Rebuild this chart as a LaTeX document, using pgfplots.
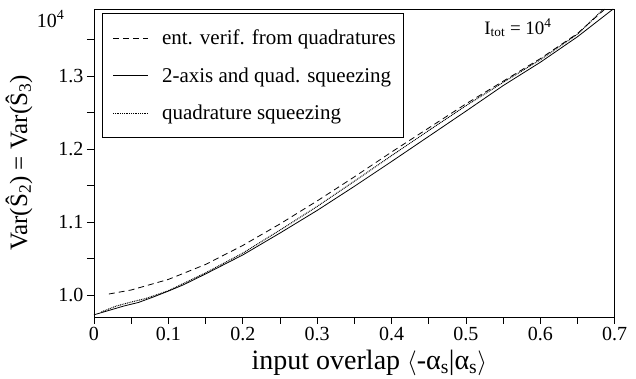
\documentclass[border=0pt]{standalone}
\usepackage{fontspec}
\setmainfont{Liberation Serif}
\usepackage{pgfplots}
\pgfplotsset{compat=1.18}
\begin{document}
\begin{tikzpicture}
\begin{axis}[
  name=ax,
  scale only axis,
  width=520.7pt, height=308pt,
  xmin=0, xmax=0.7, ymin=0.97, ymax=1.392,
  xtick={0,0.1,0.2,0.3,0.4,0.5,0.6,0.7},
  xticklabels={0,0.1,0.2,0.3,0.4,0.5,0.6,0.7},
  ytick={1.0,1.1,1.2,1.3},
  yticklabels={1.0,1.1,1.2,1.3},
  minor xtick={0.05,0.15,0.25,0.35,0.45,0.55,0.65},
  minor ytick={1.05,1.15,1.25,1.35},
  tick pos=left, tick align=outside,
  major tick length=7pt, minor tick length=7pt,
  every tick/.style={black, line width=0.7pt},
  tick label style={font=\fontsize{20}{24}\selectfont},
  axis line style={line width=0.9pt},
  xlabel={input overlap $\langle$-α\textsubscript{s}|α\textsubscript{s}$\rangle$},
  ylabel={Var(Ŝ\textsubscript{2}) = Var(Ŝ\textsubscript{3})},
  xlabel style={font=\fontsize{28}{32}\selectfont, yshift=-2pt, xshift=15pt},
  ylabel style={font=\fontsize{25}{29}\selectfont, at={([xshift=-75pt]axis description cs:0,0.5)}, anchor=center},
  legend cell align=left,
  legend style={at={(0,1)}, anchor=north west, xshift=7.7pt, yshift=-4pt,
    font=\fontsize{21}{25}\selectfont, draw=black, line width=0.7pt,
    inner xsep=5pt, inner ysep=14.5pt, row sep=17.5pt},
  legend image code/.code={\path[draw=none] (-6pt,0pt) (47pt,0pt); \draw[#1] (0pt,0pt) -- (35pt,0pt);},
]
\addplot[black, line width=0.8pt, dash pattern=on 6pt off 4pt] coordinates {
(0.02,1.0015) (0.05,1.0070) (0.10,1.0215) (0.15,1.0420) (0.20,1.0680)
(0.25,1.0975) (0.30,1.1290) (0.35,1.1620) (0.40,1.1960) (0.45,1.2290)
(0.50,1.2620) (0.55,1.2930) (0.60,1.3240) (0.65,1.3585) (0.687,1.3920)
};
\addlegendentry{ent. verif. from quadratures}
\addplot[black, line width=0.8pt] coordinates {
(0,0.9730) (0.02,0.9790) (0.04,0.9850) (0.06,0.9900) (0.08,0.9975)
(0.10,1.0055) (0.12,1.0140) (0.15,1.0290) (0.20,1.0550) (0.25,1.0850)
(0.30,1.1160) (0.35,1.1490) (0.40,1.1830) (0.45,1.2175) (0.50,1.2520)
(0.55,1.2870) (0.60,1.3190) (0.65,1.3540) (0.698,1.3920)
};
\addlegendentry{2-axis and quad. squeezing}
\addplot[black, line width=1pt, dash pattern=on 0.9pt off 0.9pt] coordinates {
(0.01,0.9770) (0.03,0.9850) (0.05,0.9905) (0.07,0.9955) (0.10,1.0060)
(0.15,1.0305) (0.20,1.0575) (0.25,1.0890) (0.30,1.1215) (0.35,1.1560)
(0.40,1.1910) (0.45,1.2255) (0.50,1.2595) (0.55,1.2915) (0.60,1.3225)
(0.65,1.3575) (0.685,1.3920)
};
\addlegendentry{quadrature squeezing}
\node[font=\fontsize{19}{23}\selectfont] at (axis cs:0.570,1.366) {I\textsubscript{tot} = 10\textsuperscript{4}};
\end{axis}
\node[anchor=east, font=\fontsize{20}{24}\selectfont] at ([xshift=-26pt,yshift=-10pt]ax.north west) {10\textsuperscript{4}};
\pgfresetboundingbox
\path ([xshift=-94pt,yshift=-62pt]ax.south west) rectangle ([xshift=21.3pt,yshift=9pt]ax.north east);
\end{tikzpicture}
\end{document}
